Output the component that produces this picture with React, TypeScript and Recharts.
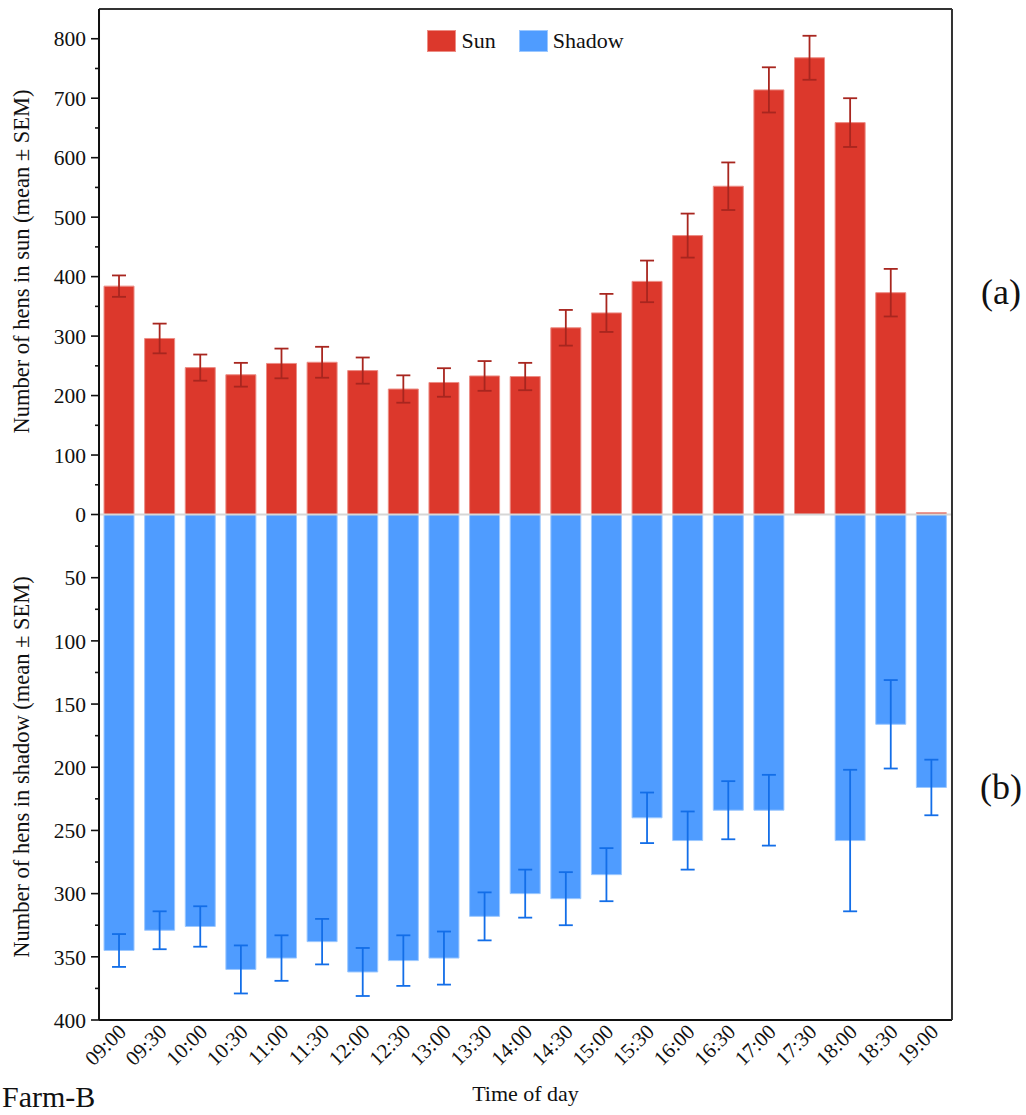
import React from 'react';
import { BarChart, Bar, XAxis, YAxis, ErrorBar, ReferenceLine, Legend } from 'recharts';

// Half-hour observation slots
const times = [
  '09:00', '09:30', '10:00', '10:30', '11:00', '11:30', '12:00', '12:30', '13:00', '13:30', '14:00',
  '14:30', '15:00', '15:30', '16:00', '16:30', '17:00', '17:30', '18:00', '18:30', '19:00',
];

// Hens in sun: mean and SEM
const sunMean = [384, 296, 247, 235, 254, 256, 242, 211, 222, 233, 232, 314, 339, 392, 469, 552, 714, 768, 659, 373, 3];
const sunSem = [18, 25, 22, 20, 25, 26, 22, 23, 24, 25, 23, 30, 32, 35, 37, 40, 38, 37, 41, 40, 0];

// Hens in shadow: mean and SEM
const shadowMean = [345, 329, 326, 360, 351, 338, 362, 353, 351, 318, 300, 304, 285, 240, 258, 234, 234, 0, 258, 166, 216];
const shadowSem = [13, 15, 16, 19, 18, 18, 19, 20, 21, 19, 19, 21, 21, 20, 23, 23, 28, 0, 56, 35, 22];

// Axis ticks (labels only on the major ones)
const sunTicks = [0, 50, 100, 150, 200, 250, 300, 350, 400, 450, 500, 550, 600, 650, 700, 750, 800];
const shadowTicks = [
  -25, -50, -75, -100, -125, -150, -175, -200, -225, -250, -275, -300, -325, -350, -375, -400,
];

const SUN_MAX = 850;
const SHADOW_MAX = 400;

const SERIES_ORDER = ['Sun', 'Shadow'];
const COLORS: Record<string, { fill: string; edge: string; err: string }> = {
  Sun: { fill: '#DC382C', edge: '#EC8D85', err: '#A8261F' },
  Shadow: { fill: '#4F9CFF', edge: '#9CC8FF', err: '#136EE8' },
};

const rows = times.map((t, i) => ({
  time: t,
  sun: sunMean[i],
  sunErr: sunSem[i],
  shadow: -shadowMean[i],
  shadowErr: shadowSem[i],
}));

const FONT = '"Liberation Serif", "Times New Roman", serif';
const TICK_SIZE = 8;
const TICK_MARGIN = 5;
// Near-zero axis thickness so stacked left axes share one line
const THIN = 0.01;

const makeYTick = (majorStep: number) => (props: any) => {
  const { x, y, payload } = props;
  const v = Math.abs(payload.value);
  const major = v % majorStep === 0;
  const axisX = x + TICK_SIZE + TICK_MARGIN;
  const len = major ? TICK_SIZE : 4;
  return (
    <g>
      <line x1={axisX - len} x2={axisX} y1={y} y2={y} stroke="#111" strokeWidth={1.6} />
      {major && (
        <text
          x={axisX - TICK_SIZE - TICK_MARGIN}
          y={y}
          dy="0.36em"
          textAnchor="end"
          fontFamily={FONT}
          fontSize={21.5}
          fill="#111"
        >
          {v}
        </text>
      )}
    </g>
  );
};

const XTick = (props: any) => {
  const { x, y, payload } = props;
  const tx = x + 8;
  const ty = y + 13;
  return (
    <text
      x={tx}
      y={ty}
      transform={`rotate(-45, ${tx}, ${ty})`}
      textAnchor="end"
      fontFamily={FONT}
      fontSize={21}
      fill="#111"
    >
      {payload.value}
    </text>
  );
};

const LegendContent = (props: any) => {
  const items = ([...(props.payload || [])] as any[]).sort(
    (a, b) => SERIES_ORDER.indexOf(a.value) - SERIES_ORDER.indexOf(b.value),
  );
  return (
    <div style={{ display: 'flex', justifyContent: 'center', alignItems: 'flex-start' }}>
      {items.map((it, idx) => {
        const c = COLORS[it.value];
        return (
          <div
            key={it.value}
            style={{ display: 'flex', alignItems: 'flex-start', marginLeft: idx === 0 ? 0 : 23 }}
          >
            <span
              style={{
                display: 'inline-block',
                width: 27,
                height: 20,
                background: c.fill,
                border: `1px solid ${c.edge}`,
                marginRight: 5,
              }}
            />
            <span
              style={{ fontFamily: FONT, fontSize: 22, lineHeight: '22px', color: '#111' }}
            >
              {it.value}
            </span>
          </div>
        );
      })}
    </div>
  );
};

export default function App() {
  return (
    <div
      style={{
        position: 'fixed',
        left: 0,
        top: 0,
        width: 1026,
        height: 1115,
        background: '#fff',
      }}
    >
      <BarChart
        width={1026}
        height={1115}
        data={rows}
        margin={{ top: 9, right: 74, bottom: 0, left: 99 }}
      >
        <XAxis
          xAxisId="main"
          dataKey="time"
          orientation="bottom"
          height={95}
          interval={0}
          tickLine={false}
          tickSize={0}
          tickMargin={0}
          axisLine={{ stroke: '#111', strokeWidth: 2 }}
          tick={XTick}
        />
        <XAxis xAxisId="shadowX" dataKey="time" hide />
        <XAxis
          xAxisId="frameTop"
          dataKey="time"
          orientation="top"
          height={THIN}
          tick={false}
          tickLine={false}
          axisLine={{ stroke: '#333', strokeWidth: 2 }}
        />
        <YAxis
          yAxisId="sun"
          type="number"
          domain={[-SUN_MAX, SUN_MAX]}
          ticks={sunTicks}
          interval={0}
          width={THIN}
          tickSize={TICK_SIZE}
          tickMargin={TICK_MARGIN}
          tickLine={false}
          axisLine={{ stroke: '#111', strokeWidth: 2 }}
          tick={makeYTick(100)}
        />
        <YAxis
          yAxisId="shadow"
          type="number"
          domain={[-SHADOW_MAX, SHADOW_MAX]}
          ticks={shadowTicks}
          interval={0}
          width={THIN}
          tickSize={TICK_SIZE}
          tickMargin={TICK_MARGIN}
          tickLine={false}
          axisLine={false}
          tick={makeYTick(50)}
        />
        <YAxis
          yAxisId="frameRight"
          orientation="right"
          type="number"
          domain={[0, 1]}
          width={THIN}
          tick={false}
          tickLine={false}
          axisLine={{ stroke: '#333', strokeWidth: 2 }}
        />
        <Legend
          layout="vertical"
          align="center"
          verticalAlign="middle"
          wrapperStyle={{ top: 30, left: 99, width: 853, height: 24 }}
          content={LegendContent}
        />
        <Bar
          xAxisId="main"
          yAxisId="sun"
          dataKey="sun"
          name="Sun"
          fill={COLORS.Sun.fill}
          stroke={COLORS.Sun.edge}
          strokeWidth={1}
          barSize={30}
          isAnimationActive={false}
        >
          <ErrorBar dataKey="sunErr" width={7} stroke={COLORS.Sun.err} strokeWidth={1.8} direction="y" />
        </Bar>
        <Bar
          xAxisId="shadowX"
          yAxisId="shadow"
          dataKey="shadow"
          name="Shadow"
          fill={COLORS.Shadow.fill}
          stroke={COLORS.Shadow.edge}
          strokeWidth={1}
          barSize={30}
          isAnimationActive={false}
        >
          <ErrorBar dataKey="shadowErr" width={7} stroke={COLORS.Shadow.err} strokeWidth={1.8} direction="y" />
        </Bar>
        <ReferenceLine xAxisId="main" yAxisId="sun" y={0} stroke="#d6d6d6" strokeWidth={2} />
      </BarChart>
      <svg
        width={1026}
        height={1115}
        style={{ position: 'absolute', left: 0, top: 0, pointerEvents: 'none' }}
      >
        <g fontFamily={FONT} fill="#111">
          <text transform="translate(28.5, 261.5) rotate(-90)" textAnchor="middle" fontSize={22.5}>
            Number of hens in sun (mean ± SEM)
          </text>
          <text transform="translate(28.5, 767) rotate(-90)" textAnchor="middle" fontSize={22.5}>
            Number of hens in shadow (mean ± SEM)
          </text>
          <text x={525.5} y={1100.5} textAnchor="middle" fontSize={22}>
            Time of day
          </text>
          <text x={2} y={1107} fontSize={30}>
            Farm-B
          </text>
          <text x={981} y={304} fontSize={36}>
            (a)
          </text>
          <text x={980} y={799} fontSize={36}>
            (b)
          </text>
        </g>
      </svg>
    </div>
  );
}
